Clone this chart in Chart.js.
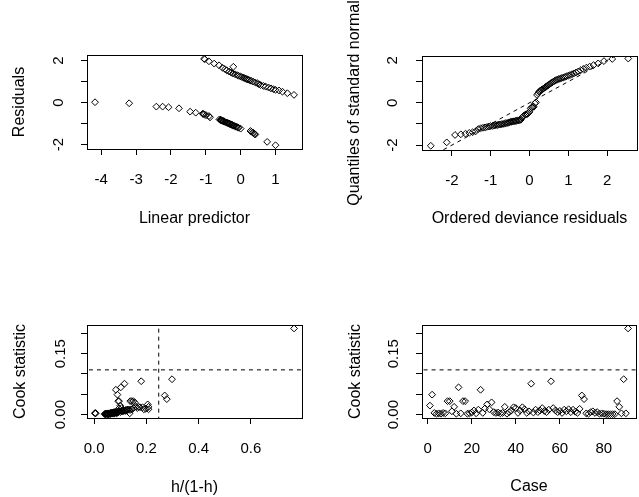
<!DOCTYPE html>
<html>
<head>
<meta charset="utf-8">
<script src="https://cdn.jsdelivr.net/npm/chart.js@4.4.0/dist/chart.umd.min.js"></script>
<style>
  html, body { margin: 0; padding: 0; background: #fff; }
  #wrap { position: relative; width: 639px; height: 497px; overflow: hidden; }
  canvas { position: absolute; }
</style>
</head>
<body>
<div id="wrap">
  <canvas id="p1" width="320" height="248" style="left:0;top:0"></canvas>
  <canvas id="p2" width="319" height="248" style="left:320px;top:0"></canvas>
  <canvas id="p3" width="320" height="249" style="left:0;top:248px"></canvas>
  <canvas id="p4" width="319" height="249" style="left:320px;top:248px"></canvas>
</div>
<script>
// --- data (glm diagnostics, 91 cases) ---

// panel 1 : residuals against linear predictor (y=0 band first, then y=1 band)
const linearPredictor = [
  1.00, 0.76, 0.42, 0.40, 0.37, 0.35, 0.31, 0.28,
  0.00, -0.06, -0.08, -0.11, -0.14, -0.17, -0.20, -0.21, -0.24, -0.25,
  -0.26, -0.29, -0.31, -0.32, -0.33, -0.35, -0.38, -0.39, -0.42, -0.45,
  -0.47, -0.49, -0.50, -0.51, -0.53, -0.54, -0.56, -0.57, -0.58, -0.61,
  -0.88, -0.91, -0.99,
  -1.04, -1.07, -1.09, -1.29, -1.45, -1.77, -2.07, -2.24, -2.42, -3.20, -4.18,
  -1.05, -1.03, -0.91, -0.76, -0.62, -0.21, -0.52, -0.45, -0.40, -0.33,
  -0.27, -0.22, -0.16, -0.10, -0.06, -0.01, 0.03, 0.08, 0.11, 0.15,
  0.18, 0.21, 0.25, 0.30, 0.36, 0.42, 0.48, 0.52, 0.57, 0.65,
  0.72, 0.80, 0.87, 0.94, 1.00, 1.10, 1.20, 1.34, 1.53
];
const residuals = [
  -2.03, -1.87, -1.52, -1.49, -1.46, -1.42, -1.39, -1.35,
  -1.24, -1.20, -1.18, -1.16, -1.14, -1.12, -1.10, -1.09, -1.07, -1.06,
  -1.05, -1.03, -1.02, -1.01, -1.00, -0.99, -0.97, -0.96, -0.94, -0.92,
  -0.90, -0.89, -0.88, -0.87, -0.86, -0.85, -0.84, -0.83, -0.82, -0.80,
  -0.70, -0.64, -0.60,
  -0.56, -0.54, -0.53, -0.48, -0.43, -0.27, -0.22, -0.19, -0.19, -0.03, 0.02,
  2.09, 2.07, 1.97, 1.86, 1.78, 1.71, 1.66, 1.60, 1.54, 1.48,
  1.43, 1.39, 1.35, 1.31, 1.28, 1.25, 1.22, 1.19, 1.17, 1.14,
  1.12, 1.10, 1.07, 1.04, 1.00, 0.96, 0.92, 0.88, 0.84, 0.80,
  0.76, 0.72, 0.68, 0.64, 0.61, 0.58, 0.52, 0.45, 0.37
];

// panel 2 : normal quantiles for the ordered residuals
const normalQuantiles = [
  -2.544, -2.133, -1.919, -1.769, -1.650, -1.551, -1.465, -1.389, -1.320, -1.257,
  -1.198, -1.144, -1.093, -1.044, -0.998, -0.953, -0.911, -0.869, -0.830, -0.792,
  -0.755, -0.718, -0.683, -0.649, -0.615, -0.583, -0.550, -0.519, -0.487, -0.456,
  -0.426, -0.396, -0.366, -0.337, -0.308, -0.279, -0.250, -0.222, -0.194, -0.166,
  -0.138, -0.110, -0.083, -0.055, -0.028, 0.000, 0.028, 0.055, 0.083, 0.110,
  0.138, 0.166, 0.194, 0.222, 0.250, 0.279, 0.308, 0.337, 0.366, 0.396,
  0.426, 0.456, 0.487, 0.519, 0.550, 0.583, 0.615, 0.649, 0.683, 0.718,
  0.755, 0.792, 0.830, 0.869, 0.911, 0.953, 0.998, 1.044, 1.093, 1.144,
  1.198, 1.257, 1.320, 1.389, 1.465, 1.551, 1.650, 1.769, 1.919, 2.133,
  2.544
];

// panels 3 and 4 : per case
const leverageRatio = [
  0.100, 0.089, 0.004, 0.060, 0.070, 0.050, 0.080, 0.065, 0.092, 0.095,
  0.110, 0.160, 0.045, 0.102, 0.075, 0.138, 0.144, 0.055, 0.085, 0.090,
  0.120, 0.006, 0.130, 0.083, 0.070, 0.095, 0.205, 0.190, 0.155, 0.078,
  0.062, 0.088, 0.058, 0.072, 0.170, 0.048, 0.100, 0.115, 0.175, 0.105,
  0.068, 0.125, 0.185, 0.208, 0.080, 0.098, 0.116, 0.074, 0.140, 0.086,
  0.108, 0.150, 0.118, 0.092, 0.128, 0.180, 0.165, 0.112, 0.082, 0.104,
  0.066, 0.135, 0.094, 0.145, 0.076, 0.122, 0.090, 0.064, 0.198, 0.270,
  0.278, 0.052, 0.046, 0.084, 0.106, 0.071, 0.087, 0.054, 0.003, 0.042,
  0.040, 0.044, 0.050, 0.056, 0.061, 0.150, 0.208, 0.077, 0.298, 0.136,
  0.765
];
const cookStatistic = [
  0.022, 0.049, 0.004, 0.002, 0.003, 0.002, 0.004, 0.003, 0.033, 0.033,
  0.008, 0.019, 0.002, 0.067, 0.003, 0.033, 0.033, 0.002, 0.003, 0.005,
  0.010, 0.003, 0.012, 0.061, 0.004, 0.015, 0.025, 0.013, 0.030, 0.006,
  0.004, 0.005, 0.003, 0.004, 0.019, 0.002, 0.006, 0.010, 0.018, 0.016,
  0.004, 0.010, 0.018, 0.013, 0.004, 0.008, 0.076, 0.005, 0.012, 0.006,
  0.010, 0.016, 0.009, 0.006, 0.012, 0.082, 0.016, 0.010, 0.006, 0.009,
  0.004, 0.012, 0.008, 0.013, 0.006, 0.012, 0.007, 0.004, 0.014, 0.047,
  0.038, 0.003, 0.002, 0.006, 0.008, 0.004, 0.006, 0.002, 0.003, 0.002,
  0.001, 0.001, 0.001, 0.001, 0.001, 0.033, 0.019, 0.003, 0.087, 0.003,
  0.212
];
const cookCutoff = 0.11;
const leverageCutoff = 0.247;

// tick values and labels
const predTicks = [-4, -3, -2, -1, 0, 1];
const predLabels = ['-4', '-3', '-2', '-1', '0', '1'];
const residTicks = [-2, -1, 0, 1, 2];
const residLabels = ['-2', '', '0', '', '2'];
const qqTicks = [-2, -1, 0, 1, 2];
const qqLabels = ['-2', '-1', '0', '1', '2'];
const levTicks = [0, 0.2, 0.4, 0.6];
const levLabels = ['0.0', '0.2', '0.4', '0.6'];
const cookTicks = [0, 0.05, 0.10, 0.15, 0.20];
const cookLabels = ['0.00', '', '', '0.15', ''];
const caseTicks = [0, 20, 40, 60, 80];
const caseLabels = ['0', '20', '40', '60', '80'];

const FONT = '"Liberation Sans", Arial, sans-serif';
Chart.defaults.font.family = FONT;
Chart.defaults.color = '#000';

// R style box round the plot region
const boxPlugin = {
  id: 'rbox',
  afterDatasetsDraw(chart) {
    const a = chart.chartArea;
    const ctx = chart.ctx;
    ctx.save();
    ctx.strokeStyle = '#000';
    ctx.lineWidth = 1;
    ctx.strokeRect(Math.round(a.left) + 0.5, Math.round(a.top) + 0.5,
      Math.round(a.right - a.left), Math.round(a.bottom - a.top));
    ctx.restore();
  }
};

function tickGrid() {
  return { drawOnChartArea: false, drawTicks: true, tickLength: 6, color: '#000', lineWidth: 1 };
}

function xAxis(o) {
  return {
    type: 'linear', position: 'bottom', min: o.min, max: o.max,
    afterBuildTicks: s => { s.ticks = o.ticks.map(v => ({ value: v })); },
    afterFit: s => { s.height = o.size; },
    grid: tickGrid(),
    border: { display: false },
    ticks: {
      autoSkip: false, maxRotation: 0, minRotation: 0, padding: o.labelPad,
      font: { size: 15 }, color: '#000',
      callback: (v, i) => o.labels[i]
    },
    title: { display: true, text: o.title, color: '#000', font: { size: 16 },
      padding: { top: 0, bottom: o.titlePad } }
  };
}

function yAxis(o) {
  return {
    type: 'linear', position: 'left', min: o.min, max: o.max,
    afterBuildTicks: s => { s.ticks = o.ticks.map(v => ({ value: v })); },
    afterFit: s => { s.width = o.size; },
    grid: tickGrid(),
    border: { display: false },
    ticks: {
      autoSkip: false, minRotation: 90, maxRotation: 90, crossAlign: 'center',
      padding: o.labelPad, font: { size: 15 }, color: '#000',
      callback: (v, i) => o.labels[i]
    },
    title: { display: true, text: o.title, color: '#000', font: { size: 16 },
      padding: { top: o.titlePad, bottom: 0 } }
  };
}

function pointSet(pts) {
  return {
    data: pts, showLine: false,
    pointStyle: 'rectRot', pointRadius: 3.4, pointHoverRadius: 3.4,
    pointBorderWidth: 1, borderColor: '#000', pointBorderColor: '#000',
    backgroundColor: 'rgba(0,0,0,0)', pointBackgroundColor: 'rgba(0,0,0,0)'
  };
}

function dashSet(pts) {
  return {
    data: pts, showLine: true, borderColor: '#000', borderWidth: 1,
    borderDash: [4, 4], pointRadius: 0, fill: false
  };
}

function panel(id, pad, datasets, x, y) {
  return new Chart(document.getElementById(id), {
    type: 'scatter',
    data: { datasets: datasets },
    options: {
      responsive: false, animation: false, devicePixelRatio: 1,
      layout: { autoPadding: false, padding: { left: 0, top: pad.top, right: pad.right, bottom: 0 } },
      plugins: { legend: { display: false }, tooltip: { enabled: false } },
      scales: { x: xAxis(x), y: yAxis(y) }
    },
    plugins: [boxPlugin]
  });
}

// panel 1
panel('p1', { top: 55, right: 18 },
  [pointSet(linearPredictor.map((v, i) => ({ x: v, y: residuals[i] })))],
  { min: -4.41, max: 1.76, ticks: predTicks, labels: predLabels, size: 99, labelPad: 16,
    title: 'Linear predictor', titlePad: 20 },
  { min: -2.21, max: 2.27, ticks: residTicks, labels: residLabels, size: 87, labelPad: 15,
    title: 'Residuals', titlePad: 10 });

// panel 2
const orderedResid = residuals.slice().sort((a, b) => a - b);
panel('p2', { top: 56, right: 2 },
  [pointSet(normalQuantiles.map((q, i) => ({ x: q, y: orderedResid[i] }))),
   dashSet([{ x: -10, y: -10 }, { x: 10, y: 10 }])],
  { min: -2.77, max: 2.77, ticks: qqTicks, labels: qqLabels, size: 98, labelPad: 16,
    title: 'Ordered deviance residuals', titlePad: 20 },
  { min: -2.23, max: 2.21, ticks: residTicks, labels: residLabels, size: 102, labelPad: 16,
    title: 'Quantiles of standard normal', titlePad: 25 });

// panel 3
panel('p3', { top: 77, right: 18 },
  [pointSet(leverageRatio.map((h, i) => ({ x: h, y: cookStatistic[i] }))),
   dashSet([{ x: -1, y: cookCutoff }, { x: 2, y: cookCutoff }]),
   dashSet([{ x: leverageCutoff, y: -1 }, { x: leverageCutoff, y: 1 }])],
  { min: -0.0275, max: 0.7955, ticks: levTicks, labels: levLabels, size: 79, labelPad: 16,
    title: 'h/(1-h)', titlePad: 0 },
  { min: -0.0085, max: 0.2205, ticks: cookTicks, labels: cookLabels, size: 87, labelPad: 6,
    title: 'Cook statistic', titlePad: 11 });

// panel 4
panel('p4', { top: 77, right: 3 },
  [pointSet(cookStatistic.map((c, i) => ({ x: i + 1, y: c }))),
   dashSet([{ x: -100, y: cookCutoff }, { x: 200, y: cookCutoff }])],
  { min: -2.6, max: 94.6, ticks: caseTicks, labels: caseLabels, size: 79, labelPad: 16,
    title: 'Case', titlePad: 1 },
  { min: -0.0085, max: 0.2205, ticks: cookTicks, labels: cookLabels, size: 102, labelPad: 8,
    title: 'Cook statistic', titlePad: 26 });
</script>
</body>
</html>
